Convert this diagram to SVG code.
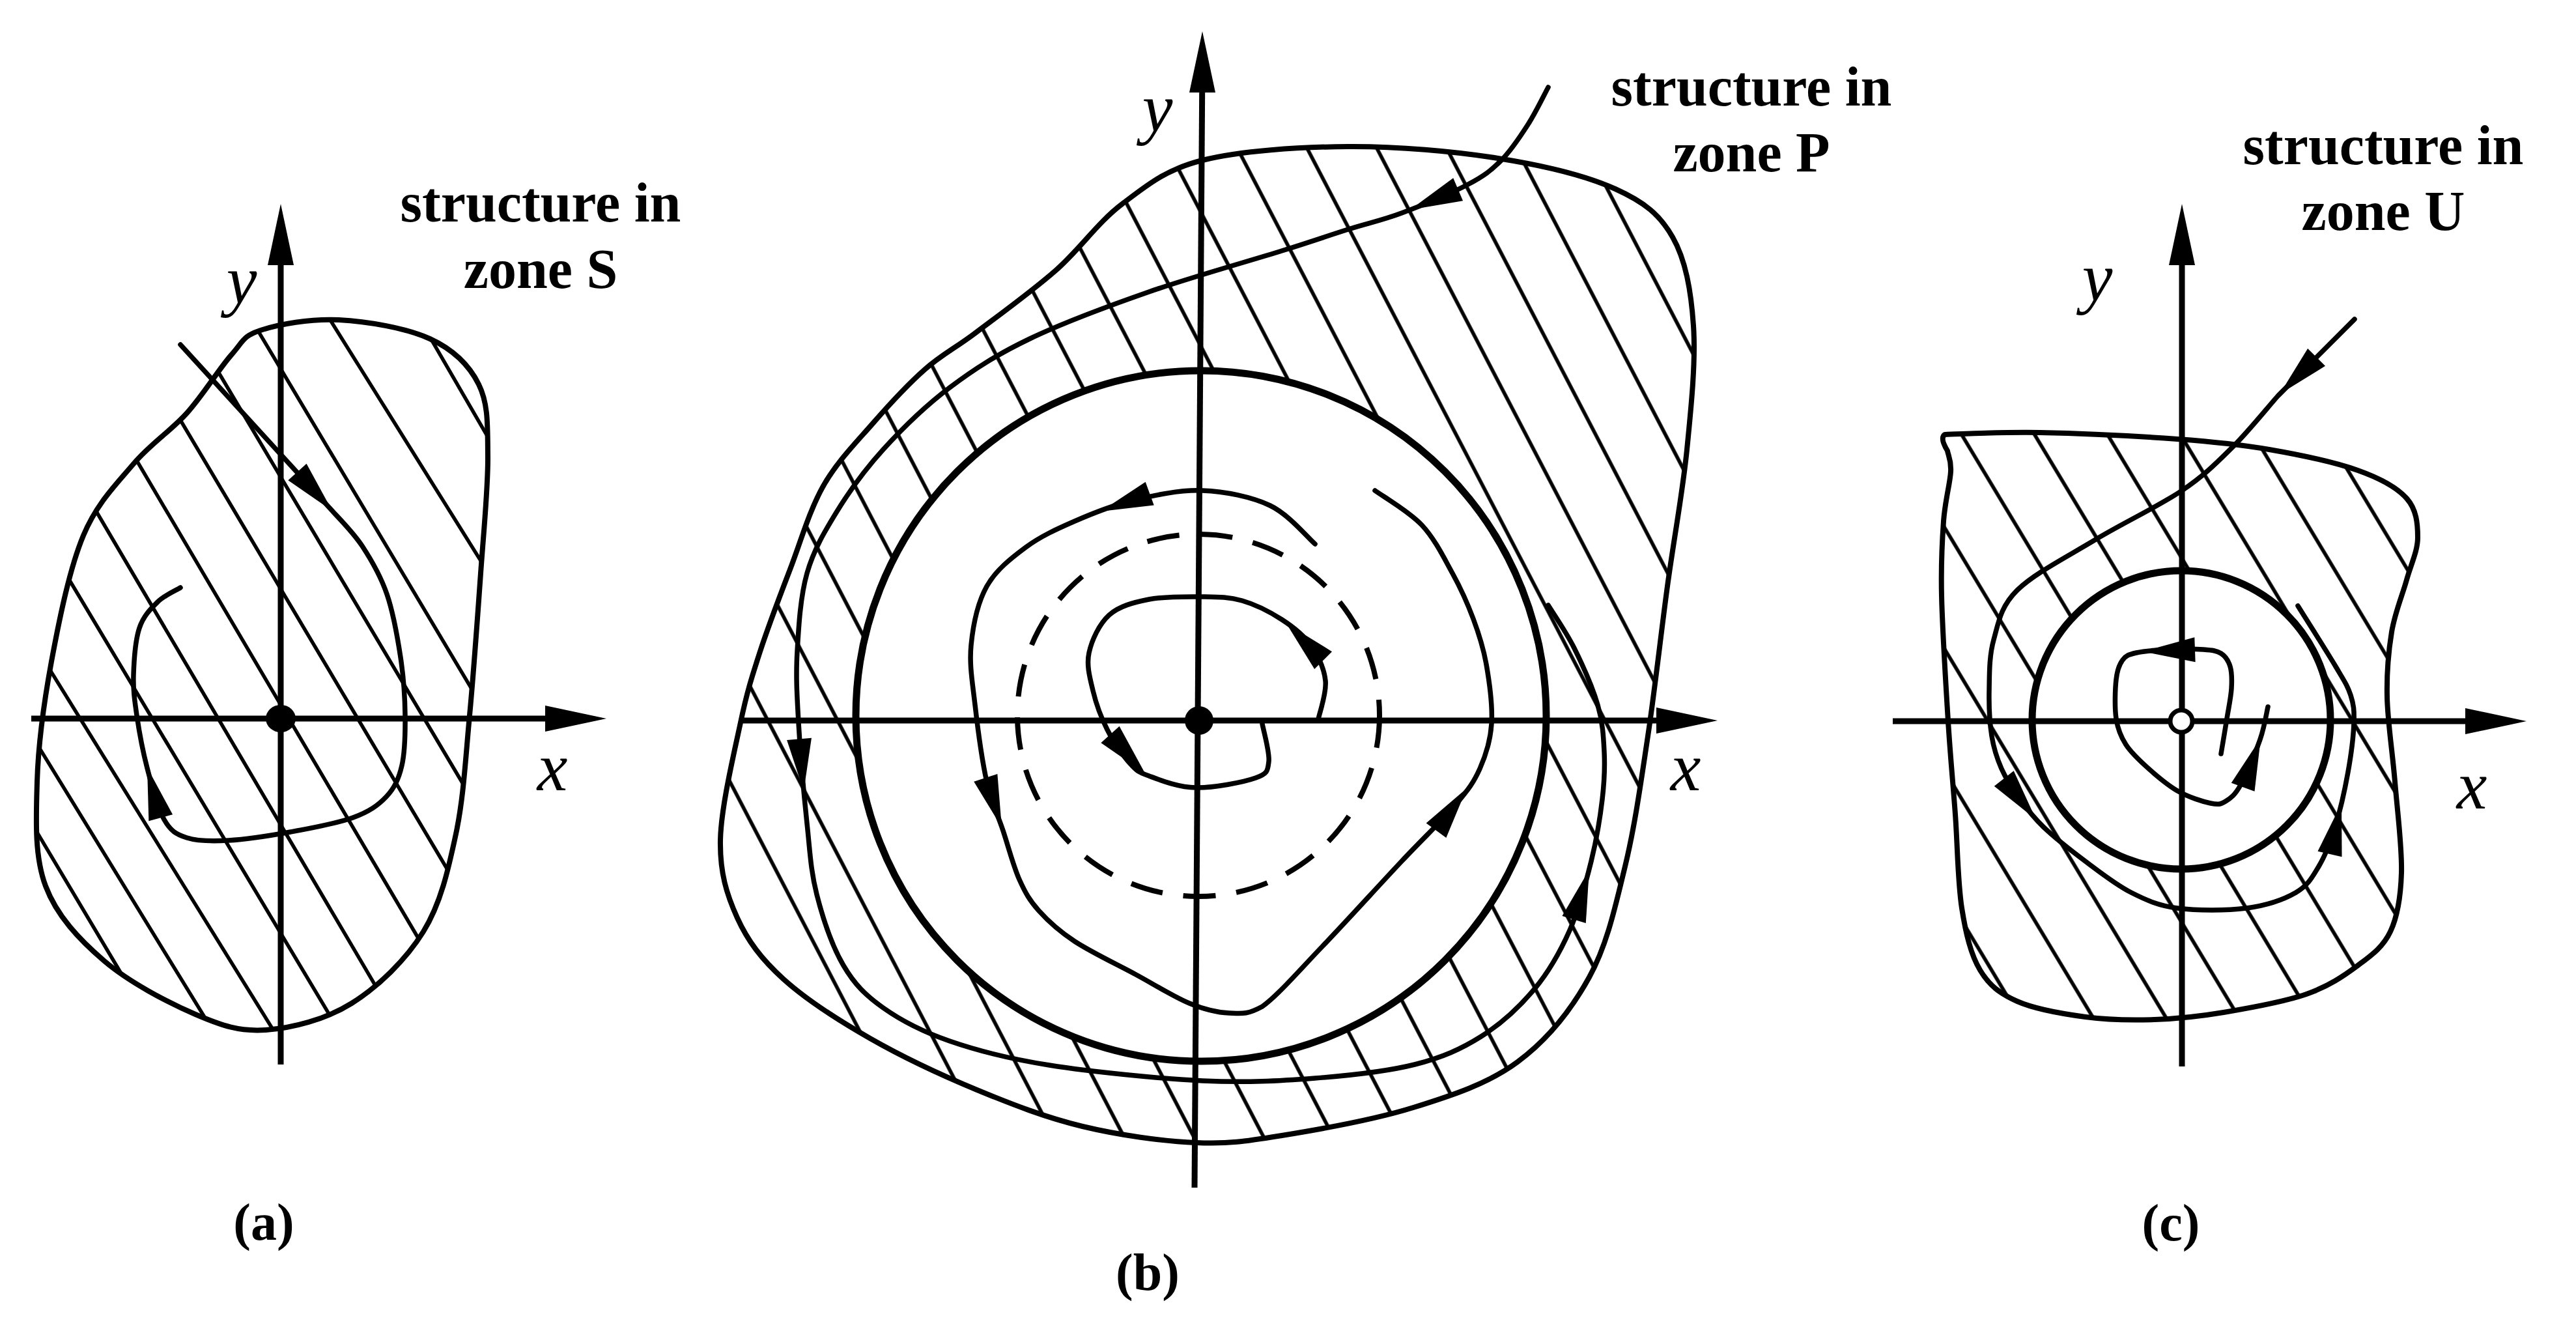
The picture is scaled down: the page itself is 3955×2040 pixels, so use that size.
<svg xmlns="http://www.w3.org/2000/svg" xmlns:xlink="http://www.w3.org/1999/xlink" width="3955" height="2040" viewBox="0 0 3955 2040">
<style>
.ax{stroke:#000;stroke-width:9;fill:none}
.bd{stroke:#000;stroke-width:8;fill:none;stroke-linejoin:round}
.tr{stroke:#000;stroke-width:7.5;fill:none;stroke-linecap:round;stroke-linejoin:round}
.lc{stroke:#000;stroke-width:11;fill:none}
.dl{stroke:#000;stroke-width:8;fill:none;stroke-dasharray:50 32}
.hl{stroke:#000;stroke-width:5.5}
.lbl{font-family:"Liberation Serif","Times New Roman",serif;font-weight:bold;font-size:86px;text-anchor:middle;fill:#000}
.cap{font-family:"Liberation Serif","Times New Roman",serif;font-weight:bold;font-size:80px;text-anchor:middle;fill:#000}
.var{font-family:"Liberation Serif","Times New Roman",serif;font-style:italic;font-size:105px;text-anchor:middle;fill:#000}
</style>
<defs>
<path id="ta" d="M0,0 L-80,-19 L-80,19 Z" fill="#000"/>
<path id="aa" d="M0,0 L-94,-20 L-94,20 Z" fill="#000"/>
<pattern id="hatchB" patternUnits="userSpaceOnUse" width="95" height="40" patternTransform="rotate(-27.5)">
<line x1="60" y1="-1" x2="60" y2="41" class="hl"/>
</pattern>
<pattern id="hatchC" patternUnits="userSpaceOnUse" width="96" height="40" patternTransform="rotate(-31)">
<line x1="30" y1="-1" x2="30" y2="41" class="hl"/>
</pattern>
<path id="bndA" d="M400,507 C427.5,498 476.7,488.8 520,491 C563.3,493.2 624.2,503.5 660,520 C695.8,536.5 720.2,560 735,590 C749.8,620 748.5,651.7 749,700 C749.5,748.3 742.7,813.7 738,880 C733.3,946.3 727.3,1031.3 721,1098 C714.7,1164.7 711.8,1224.7 700,1280 C688.2,1335.3 676.7,1386.7 650,1430 C623.3,1473.3 580.3,1514.8 540,1540 C499.7,1565.2 448,1578.2 408,1581 C368,1583.8 341.3,1574.7 300,1557 C258.7,1539.3 198.3,1507.8 160,1475 C121.7,1442.2 87.2,1405.8 70,1360 C52.8,1314.2 55.3,1258.3 57,1200 C58.7,1141.7 68.2,1073 80,1010 C91.8,947 107.2,871.7 128,822 C148.8,772.3 178.5,743.3 205,712 C231.5,680.7 262,661.8 287,634 C312,606.2 336.2,566.2 355,545 C373.8,523.8 372.5,516 400,507 Z"/>
<clipPath id="clipA"><use xlink:href="#bndA"/></clipPath>
</defs>
<rect x="0" y="0" width="3955" height="2040" fill="#fff"/>

<g id="panel-a">
<g id="a-hatch" clip-path="url(#clipA)">
<line class="hl" x1="44" y1="1256" x2="199" y2="1516"/>
<line class="hl" x1="50" y1="1131" x2="336" y2="1597"/>
<line class="hl" x1="66" y1="1011" x2="435" y2="1606"/>
<line class="hl" x1="101" y1="881" x2="524" y2="1588"/>
<line class="hl" x1="139" y1="770" x2="597" y2="1548"/>
<line class="hl" x1="197" y1="685" x2="661" y2="1472"/>
<line class="hl" x1="261" y1="618" x2="702" y2="1360"/>
<line class="hl" x1="315" y1="537" x2="722" y2="1222"/>
<line class="hl" x1="379" y1="479" x2="734" y2="1074"/>
<line class="hl" x1="490" y1="464" x2="757" y2="891"/>
<line class="hl" x1="643" y1="488" x2="763" y2="695"/>
</g>
<use id="a-boundary" xlink:href="#bndA" class="bd"/>
<path id="a-trajectory" class="tr" d="M277,529 L510,784 C518,793 542,816.7 556,838 C570,859.3 584.2,883.5 594,912 C603.8,940.5 610.3,978 615,1009 C619.7,1040 621.7,1070.3 622,1098 C622.3,1125.7 621.8,1154.2 617,1175 C612.2,1195.8 605.5,1209.7 593,1223 C580.5,1236.3 566.5,1246 542,1255 C517.5,1264 477.8,1271.2 446,1277 C414.2,1282.8 377.5,1288.5 351,1290 C324.5,1291.5 303.5,1291.3 287,1286 C270.5,1280.7 262.2,1275.8 252,1258 C241.8,1240.2 233,1205.7 226,1179 C219,1152.3 213.5,1121.8 210,1098 C206.5,1074.2 204.3,1058.3 205,1036 C205.7,1013.7 207.8,982.7 214,964 C220.2,945.3 231.5,934.3 242,924 C252.5,913.7 271.2,905.7 277,902"/>
<g id="a-arrows">
<use xlink:href="#ta" transform="translate(510,784) rotate(48)"/>
<use xlink:href="#ta" transform="translate(226,1178) rotate(-105)"/>
</g>
<g id="a-axes">
<line class="ax" x1="431" y1="1634" x2="431" y2="360"/>
<use xlink:href="#aa" transform="translate(431,313) rotate(-90)"/>
<line class="ax" x1="48" y1="1103" x2="885" y2="1103"/>
<use xlink:href="#aa" transform="translate(931,1103)"/>
<ellipse cx="431" cy="1103" rx="23" ry="21" fill="#000"/>
</g>
<text class="var" x="371" y="465">y</text>
<text class="var" x="848" y="1213">x</text>
<text class="lbl" x="830" y="340">structure in</text>
<text class="lbl" x="830" y="442">zone S</text>
<text class="cap" x="405" y="1903">(a)</text>
</g>

<g id="panel-b">
<path id="b-hatch" fill="url(#hatchB)" fill-rule="evenodd" stroke="none" d="M1846,246 C1903.8,231.3 1994.3,225.5 2070,225 C2145.7,224.5 2231.7,232.2 2300,243 C2368.3,253.8 2435.3,269.8 2480,290 C2524.7,310.2 2548,329 2568,364 C2588,399 2596.3,445.7 2600,500 C2603.7,554.3 2596.7,623.3 2590,690 C2583.3,756.7 2570,826.7 2560,900 C2550,973.3 2540.8,1058.3 2530,1130 C2519.2,1201.7 2510,1268.3 2495,1330 C2480,1391.7 2467.5,1450 2440,1500 C2412.5,1550 2375,1596.7 2330,1630 C2285,1663.3 2230.3,1681.2 2170,1700 C2109.7,1718.8 2023.7,1734 1968,1743 C1912.3,1752 1887,1756.3 1836,1754 C1785,1751.7 1718,1742.5 1662,1729 C1606,1715.5 1554.3,1695.5 1500,1673 C1445.7,1650.5 1385.5,1622.3 1336,1594 C1286.5,1565.7 1237,1533.8 1203,1503 C1169,1472.2 1148.2,1444.5 1132,1409 C1115.8,1373.5 1105.2,1340 1106,1290 C1106.8,1240 1126.8,1157.3 1137,1109 C1147.2,1060.7 1154.3,1039.2 1167,1000 C1179.7,960.8 1196.8,916.3 1213,874 C1229.2,831.7 1242.8,783.3 1264,746 C1285.2,708.7 1314,679.8 1340,650 C1366,620.2 1393.5,590.3 1420,567 C1446.5,543.7 1465.5,535.3 1499,510 C1532.5,484.7 1583.7,447.8 1621,415 C1658.3,382.2 1685.5,341.2 1723,313 C1760.5,284.8 1788.2,260.7 1846,246 Z M2374,1099 A530,530 0 1 0 1314,1099 A530,530 0 1 0 2374,1099 Z"/>
<path id="b-boundary" class="bd" d="M1846,246 C1903.8,231.3 1994.3,225.5 2070,225 C2145.7,224.5 2231.7,232.2 2300,243 C2368.3,253.8 2435.3,269.8 2480,290 C2524.7,310.2 2548,329 2568,364 C2588,399 2596.3,445.7 2600,500 C2603.7,554.3 2596.7,623.3 2590,690 C2583.3,756.7 2570,826.7 2560,900 C2550,973.3 2540.8,1058.3 2530,1130 C2519.2,1201.7 2510,1268.3 2495,1330 C2480,1391.7 2467.5,1450 2440,1500 C2412.5,1550 2375,1596.7 2330,1630 C2285,1663.3 2230.3,1681.2 2170,1700 C2109.7,1718.8 2023.7,1734 1968,1743 C1912.3,1752 1887,1756.3 1836,1754 C1785,1751.7 1718,1742.5 1662,1729 C1606,1715.5 1554.3,1695.5 1500,1673 C1445.7,1650.5 1385.5,1622.3 1336,1594 C1286.5,1565.7 1237,1533.8 1203,1503 C1169,1472.2 1148.2,1444.5 1132,1409 C1115.8,1373.5 1105.2,1340 1106,1290 C1106.8,1240 1126.8,1157.3 1137,1109 C1147.2,1060.7 1154.3,1039.2 1167,1000 C1179.7,960.8 1196.8,916.3 1213,874 C1229.2,831.7 1242.8,783.3 1264,746 C1285.2,708.7 1314,679.8 1340,650 C1366,620.2 1393.5,590.3 1420,567 C1446.5,543.7 1465.5,535.3 1499,510 C1532.5,484.7 1583.7,447.8 1621,415 C1658.3,382.2 1685.5,341.2 1723,313 C1760.5,284.8 1788.2,260.7 1846,246 Z"/>
<circle id="b-limit-stable" class="lc" cx="1844" cy="1099" r="530"/>
<circle id="b-limit-unstable" class="dl" cx="1840" cy="1098" r="278"/>
<path id="b-traj-outer" class="tr" d="M2377,134 C2371.8,143.5 2358,172.3 2346,191 C2334,209.7 2320.3,230.7 2305,246 C2289.7,261.3 2279.5,269.5 2254,283 C2228.5,296.5 2182.7,315.5 2152,327 C2121.3,338.5 2100.7,342.3 2070,352 C2039.3,361.7 2019,369 1968,385 C1917,401 1828.5,425.5 1764,448 C1699.5,470.5 1632,495.5 1581,520 C1530,544.5 1495.5,566.7 1458,595 C1420.5,623.3 1384.8,658.3 1356,690 C1327.2,721.7 1304.5,753.3 1285,785 C1265.5,816.7 1249.2,844.2 1239,880 C1228.8,915.8 1226.2,961.8 1224,1000 C1221.8,1038.2 1223.5,1065 1226,1109 C1228.5,1153 1234.3,1220 1239,1264 C1243.7,1308 1244.7,1336.7 1254,1373 C1263.3,1409.3 1278,1453 1295,1482 C1312,1511 1328.8,1527.7 1356,1547 C1383.2,1566.3 1415.5,1583.3 1458,1598 C1500.5,1612.7 1546.3,1624.8 1611,1635 C1675.7,1645.2 1778,1655.7 1846,1659 C1914,1662.3 1964.7,1659.2 2019,1655 C2073.3,1650.8 2129.5,1644.7 2172,1634 C2214.5,1623.3 2243.3,1610.3 2274,1591 C2304.7,1571.7 2333.3,1545.2 2356,1518 C2378.7,1490.8 2395.5,1460.7 2410,1428 C2424.5,1395.3 2434.7,1355.5 2443,1322 C2451.3,1288.5 2456.7,1255 2460,1227 C2463.3,1199 2464.2,1178.2 2463,1154 C2461.8,1129.8 2460.7,1108.5 2453,1082 C2445.3,1055.5 2429.7,1020.5 2417,995 C2404.3,969.5 2383.7,940 2377,929"/>
<path id="b-traj-middle" class="tr" d="M2019,835 C2007.5,825.2 1978.8,789.7 1950,776 C1921.2,762.3 1881,754.3 1846,753 C1811,751.7 1772.7,760.2 1740,768 C1707.3,775.8 1677.5,788 1650,800 C1622.5,812 1597.5,823.3 1575,840 C1552.5,856.7 1529,875 1515,900 C1501,925 1494,959.7 1491,990 C1488,1020.3 1493,1047 1497,1082 C1501,1117 1507.8,1167.8 1515,1200 C1522.2,1232.2 1531.7,1250 1540,1275 C1548.3,1300 1555.8,1329.5 1565,1350 C1574.2,1370.5 1580.8,1382.2 1595,1398 C1609.2,1413.8 1625.2,1428.7 1650,1445 C1674.8,1461.3 1714.7,1480.2 1744,1496 C1773.3,1511.8 1802.2,1530.2 1826,1540 C1849.8,1549.8 1868.3,1554.2 1887,1555 C1905.7,1555.8 1914.2,1558 1938,1545 C1961.8,1528 1994.3,1490.2 2030,1453 C2065.7,1415.8 2117.8,1358.3 2152,1322 C2186.2,1285.7 2215,1258.7 2235,1235 C2255,1211.3 2262.8,1200.7 2272,1180 C2281.2,1159.3 2288.3,1137.7 2290,1111 C2291.7,1084.3 2286.7,1046.8 2282,1020 C2277.3,993.2 2270.7,973.3 2262,950 C2253.3,926.7 2243.2,904 2230,880 C2216.8,856 2202.8,827.2 2183,806 C2163.2,784.8 2123,761.8 2111,753"/>
<path id="b-traj-inner" class="tr" d="M2024,1104 C2025.8,1094.2 2037,1064 2035,1045 C2033,1026 2023.2,1005.7 2012,990 C2000.8,974.3 1985.5,962.3 1968,951 C1950.5,939.7 1927.3,927.8 1907,922 C1886.7,916.2 1869.8,916.3 1846,916 C1822.2,915.7 1787.8,915.3 1764,920 C1740.2,924.7 1718.3,930.3 1703,944 C1687.7,957.7 1676.2,982.7 1672,1002 C1667.8,1021.3 1673.3,1040.3 1678,1060 C1682.7,1079.7 1690.5,1101.3 1700,1120 C1709.5,1138.7 1724.3,1160.2 1735,1172 C1745.7,1183.8 1747.2,1184.8 1764,1191 C1780.8,1197.2 1808.7,1208.5 1836,1209 C1863.3,1209.5 1909.3,1200.7 1928,1194 C1946.7,1187.3 1946.3,1182.8 1948,1169 C1949.7,1155.2 1939.7,1120.7 1938,1111"/>
<g id="b-arrows">
<use xlink:href="#ta" transform="translate(2165,322) rotate(157)"/>
<use xlink:href="#ta" transform="translate(1234,1214) rotate(85)"/>
<use xlink:href="#ta" transform="translate(2440,1335) rotate(-73)"/>
<use xlink:href="#ta" transform="translate(1690,785) rotate(160)"/>
<use xlink:href="#ta" transform="translate(1538,1270) rotate(72)"/>
<use xlink:href="#ta" transform="translate(2252,1210) rotate(-54)"/>
<use xlink:href="#ta" transform="translate(1975,957) rotate(-135)"/>
<use xlink:href="#ta" transform="translate(1758,1187) rotate(48)"/>
</g>
<g id="b-axes">
<line class="ax" x1="1834" y1="1823" x2="1846" y2="95"/>
<use xlink:href="#aa" transform="translate(1846,48) rotate(-90)"/>
<line class="ax" x1="1137" y1="1106" x2="2590" y2="1106"/>
<use xlink:href="#aa" transform="translate(2637,1106)"/>
<circle cx="1841" cy="1106" r="22" fill="#000"/>
</g>
<text class="var" x="1777" y="201">y</text>
<text class="var" x="2588" y="1213">x</text>
<text class="lbl" x="2689" y="162">structure in</text>
<text class="lbl" x="2689" y="263">zone P</text>
<text class="cap" x="1762" y="1980">(b)</text>
</g>

<g id="panel-c">
<path id="c-hatch" fill="url(#hatchC)" fill-rule="evenodd" stroke="none" d="M2986,667 C3010.3,666.5 3072.5,662.8 3132,664 C3191.5,665.2 3284.3,669.7 3343,674 C3401.7,678.3 3437.8,682 3484,690 C3530.2,698 3584.8,709.5 3620,722 C3655.2,734.5 3679.7,747.8 3695,765 C3710.3,782.2 3712,804.2 3712,825 C3712,845.8 3701.7,865.8 3695,890 C3688.3,914.2 3677,940 3672,970 C3667,1000 3664.2,1031.7 3665,1070 C3665.8,1108.3 3673.3,1155 3677,1200 C3680.7,1245 3688.2,1301.7 3687,1340 C3685.8,1378.3 3681.2,1406.3 3670,1430 C3658.8,1453.7 3641.5,1466 3620,1482 C3598.5,1498 3575.3,1514 3541,1526 C3506.7,1538 3452.8,1547.5 3414,1554 C3375.2,1560.5 3343.3,1563.8 3308,1565 C3272.7,1566.2 3237.2,1565.7 3202,1561 C3166.8,1556.3 3124,1549 3097,1537 C3070,1525 3054.2,1512.8 3040,1489 C3025.8,1465.2 3018.3,1433.8 3012,1394 C3005.7,1354.2 3005.5,1297.8 3002,1250 C2998.5,1202.2 2994.5,1162.8 2991,1107 C2987.5,1051.2 2982.2,966.2 2981,915 C2979.8,863.8 2981.7,831.8 2984,800 C2986.3,768.2 2994,742.3 2995,724 C2996,705.7 2991,699 2990,692 Q2978,672 2986,667 Z M3578,1105 A229,229 0 1 0 3120,1105 A229,229 0 1 0 3578,1105 Z"/>
<path id="c-boundary" class="bd" d="M2986,667 C3010.3,666.5 3072.5,662.8 3132,664 C3191.5,665.2 3284.3,669.7 3343,674 C3401.7,678.3 3437.8,682 3484,690 C3530.2,698 3584.8,709.5 3620,722 C3655.2,734.5 3679.7,747.8 3695,765 C3710.3,782.2 3712,804.2 3712,825 C3712,845.8 3701.7,865.8 3695,890 C3688.3,914.2 3677,940 3672,970 C3667,1000 3664.2,1031.7 3665,1070 C3665.8,1108.3 3673.3,1155 3677,1200 C3680.7,1245 3688.2,1301.7 3687,1340 C3685.8,1378.3 3681.2,1406.3 3670,1430 C3658.8,1453.7 3641.5,1466 3620,1482 C3598.5,1498 3575.3,1514 3541,1526 C3506.7,1538 3452.8,1547.5 3414,1554 C3375.2,1560.5 3343.3,1563.8 3308,1565 C3272.7,1566.2 3237.2,1565.7 3202,1561 C3166.8,1556.3 3124,1549 3097,1537 C3070,1525 3054.2,1512.8 3040,1489 C3025.8,1465.2 3018.3,1433.8 3012,1394 C3005.7,1354.2 3005.5,1297.8 3002,1250 C2998.5,1202.2 2994.5,1162.8 2991,1107 C2987.5,1051.2 2982.2,966.2 2981,915 C2979.8,863.8 2981.7,831.8 2984,800 C2986.3,768.2 2994,742.3 2995,724 C2996,705.7 2991,699 2990,692 Q2978,672 2986,667 Z"/>
<circle id="c-limit" class="lc" cx="3349" cy="1105" r="229"/>
<path id="c-traj-outer" class="tr" d="M3615,490 L3498,607 C3486,620 3452.7,661.7 3428,686 C3403.3,710.3 3385.3,729.2 3350,753 C3314.7,776.8 3258.2,803.5 3216,829 C3173.8,854.5 3122.8,880.5 3097,906 C3071.2,931.5 3068.2,956.3 3061,982 C3053.8,1007.7 3054.5,1035.3 3054,1060 C3053.5,1084.7 3054.8,1110 3058,1130 C3061.2,1150 3066,1164.2 3073,1180 C3080,1195.8 3089.2,1210 3100,1225 C3110.8,1240 3120.8,1253.7 3138,1270 C3155.2,1286.3 3180.7,1306.3 3203,1323 C3225.3,1339.7 3248.7,1358.2 3272,1370 C3295.3,1381.8 3313.5,1390 3343,1394 C3372.5,1398 3418.7,1398 3449,1394 C3479.3,1390 3506.5,1380.7 3525,1370 C3543.5,1359.3 3550,1346.7 3560,1330 C3570,1313.3 3577.5,1294.2 3585,1270 C3592.5,1245.8 3600.2,1211.7 3605,1185 C3609.8,1158.3 3613.3,1129.7 3614,1110 C3614.7,1090.3 3613.7,1081.5 3609,1067 C3604.3,1052.5 3599.5,1045.8 3586,1023 C3572.5,1000.2 3537.7,945.5 3528,930"/>
<path id="c-traj-inner" class="tr" d="M3410,1157 C3411.5,1148 3416.3,1119.7 3419,1103 C3421.7,1086.3 3425.2,1070.3 3426,1057 C3426.8,1043.7 3426.7,1032 3424,1023 C3421.3,1014 3416.8,1007.3 3410,1003 C3403.2,998.7 3396.3,998 3383,997 C3369.7,996 3347.2,996.2 3330,997 C3312.8,997.8 3291.8,999.3 3280,1002 C3268.2,1004.7 3264.2,1006.2 3259,1013 C3253.8,1019.8 3250.7,1028 3249,1043 C3247.3,1058 3246.5,1086.3 3249,1103 C3251.5,1119.7 3255.7,1130.2 3264,1143 C3272.3,1155.8 3285.5,1168 3299,1180 C3312.5,1192 3329.2,1206.2 3345,1215 C3360.8,1223.8 3382,1230.5 3394,1233 C3406,1235.5 3409.3,1234.7 3417,1230 C3424.7,1225.3 3431.2,1220.8 3440,1205 C3448.8,1189.2 3463,1155 3470,1135 C3477,1115 3480,1093.3 3482,1085"/>
<g id="c-arrows">
<use xlink:href="#ta" transform="translate(3500,605) rotate(135)"/>
<use xlink:href="#ta" transform="translate(3126,1258) rotate(52)"/>
<use xlink:href="#ta" transform="translate(3595,1233) rotate(-77)"/>
<use xlink:href="#ta" transform="translate(3290,1000) rotate(178)"/>
<use xlink:href="#ta" transform="translate(3471,1133) rotate(-70)"/>
</g>
<g id="c-axes">
<line class="ax" x1="3350" y1="1637" x2="3350" y2="360"/>
<use xlink:href="#aa" transform="translate(3350,313) rotate(-90)"/>
<line class="ax" x1="2906" y1="1107" x2="3832" y2="1107"/>
<use xlink:href="#aa" transform="translate(3879,1107)"/>
<circle cx="3349" cy="1107" r="17" fill="#fff" stroke="#000" stroke-width="7"/>
</g>
<text class="var" x="3220" y="461">y</text>
<text class="var" x="3795" y="1241">x</text>
<text class="lbl" x="3659" y="252">structure in</text>
<text class="lbl" x="3659" y="353">zone U</text>
<text class="cap" x="3333" y="1904">(c)</text>
</g>
</svg>
